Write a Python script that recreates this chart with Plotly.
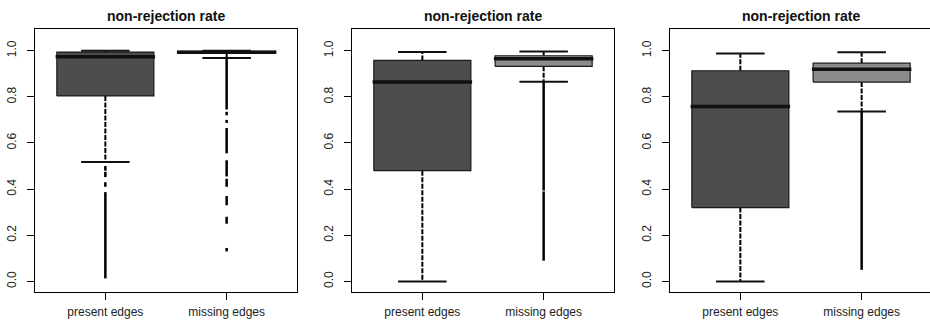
import plotly.graph_objects as go

# ---- data ----
categories = ["present edges", "missing edges"]
panel_titles = ["non-rejection rate", "non-rejection rate", "non-rejection rate"]

# per panel: [present, missing]
q1 = [[0.804, 0.988], [0.480, 0.932], [0.320, 0.864]]
median = [[0.974, 0.993], [0.864, 0.965], [0.758, 0.920]]
q3 = [[0.994, 0.997], [0.958, 0.978], [0.913, 0.946]]
lower_whisker = [[0.517, 0.968], [0.000, 0.865], [0.000, 0.736]]
upper_whisker = [[1.000, 1.000], [0.994, 0.997], [0.988, 0.993]]

# outliers: dense runs of points, given as (low, high) value spans
outlier_spans = [
    [
        [(0.480, 0.500), (0.452, 0.475), (0.410, 0.430), (0.013, 0.387)],
        [(0.745, 0.965), (0.720, 0.735), (0.687, 0.700), (0.555, 0.665),
         (0.455, 0.525), (0.410, 0.445), (0.330, 0.370), (0.250, 0.280),
         (0.130, 0.145)],
    ],
    [
        [],
        [(0.394, 0.865), (0.090, 0.390)],
    ],
    [
        [],
        [(0.050, 0.736)],
    ],
]

yticks = [0.0, 0.2, 0.4, 0.6, 0.8, 1.0]
ytick_labels = ["0.0", "0.2", "0.4", "0.6", "0.8", "1.0"]

# ---- styling ----
W, H = 930, 320
fills = ["#4d4d4d", "#8c8c8c"]
box_w = 0.8
panel_px = [(35, 297), (352, 614), (670, 930)]
full_w = 262.0
x_lo = 0.42
x_span = 2.16
y_range = [-0.046, 1.094]
y_dom = [1 - 292 / H, 1 - 29 / H]
font_family = "Liberation Sans, Arial, sans-serif"

fig = go.Figure()

for p in range(3):
    xa = "x" if p == 0 else f"x{p + 1}"
    ya = "y" if p == 0 else f"y{p + 1}"
    for g in range(2):
        c = g + 1
        h = box_w / 2
        # whiskers (dashed)
        fig.add_trace(go.Scatter(
            x=[c, c, None, c, c],
            y=[q3[p][g], upper_whisker[p][g], None, q1[p][g], lower_whisker[p][g]],
            mode="lines", line=dict(color="black", width=2, dash="5px,1.5px"),
            xaxis=xa, yaxis=ya, hoverinfo="skip", showlegend=False))
        # staples
        fig.add_trace(go.Scatter(
            x=[c - h / 2, c + h / 2, None, c - h / 2, c + h / 2],
            y=[upper_whisker[p][g]] * 2 + [None] + [lower_whisker[p][g]] * 2,
            mode="lines", line=dict(color="#111111", width=2),
            xaxis=xa, yaxis=ya, hoverinfo="skip", showlegend=False))
        # box
        fig.add_trace(go.Scatter(
            x=[c - h, c + h, c + h, c - h, c - h],
            y=[q1[p][g], q1[p][g], q3[p][g], q3[p][g], q1[p][g]],
            mode="lines", fill="toself", fillcolor=fills[g],
            line=dict(color="#1a1a1a", width=1.2),
            xaxis=xa, yaxis=ya, hoverinfo="skip", showlegend=False))
        # outliers
        ox, oy = [], []
        for lo, hi in outlier_spans[p][g]:
            ox += [c, c, None]
            oy += [lo, hi, None]
        if ox:
            fig.add_trace(go.Scatter(
                x=ox, y=oy, mode="lines", line=dict(color="black", width=2.5),
                xaxis=xa, yaxis=ya, hoverinfo="skip", showlegend=False))
        # median
        fig.add_trace(go.Scatter(
            x=[c - h - 0.01, c + h + 0.01], y=[median[p][g]] * 2,
            mode="lines", line=dict(color="#111111", width=3.5),
            xaxis=xa, yaxis=ya, hoverinfo="skip", showlegend=False))

layout = dict(
    width=W, height=H,
    margin=dict(l=0, r=0, t=0, b=0),
    paper_bgcolor="white", plot_bgcolor="white",
    font=dict(family=font_family, color="#222222"),
    showlegend=False,
)

annotations = []
for p in range(3):
    x0, x1 = panel_px[p]
    suffix = "" if p == 0 else str(p + 1)
    width_px = x1 - x0
    rng = [x_lo, x_lo + x_span * width_px / full_w]
    layout["xaxis" + suffix] = dict(
        domain=[x0 / W, x1 / W], range=rng, anchor="y" + suffix,
        tickmode="array", tickvals=[1, 2], ticktext=categories,
        ticks="outside", ticklen=7, tickwidth=1, tickcolor="black",
        ticklabelstandoff=2,
        showline=True, linecolor="black", linewidth=1, mirror=True,
        showgrid=False, zeroline=False, automargin=False,
        tickfont=dict(size=12, color="#222222"),
    )
    layout["yaxis" + suffix] = dict(
        domain=y_dom, range=y_range, anchor="x" + suffix,
        tickmode="array", tickvals=yticks, ticktext=ytick_labels,
        ticks="outside", ticklen=7, tickwidth=1, tickcolor="black",
        tickangle=-90, ticklabelstandoff=6,
        showline=True, linecolor="black", linewidth=1, mirror=(p < 2),
        showgrid=False, zeroline=False, automargin=False,
        tickfont=dict(size=12, color="#222222"),
    )
    annotations.append(dict(
        text="<b>" + panel_titles[p] + "</b>", xref="paper", yref="paper",
        x=(x0 + (x0 + full_w)) / 2 / W if p == 2 else (x0 + x1) / 2 / W,
        y=1 - 16 / H, xanchor="center", yanchor="middle", showarrow=False,
        font=dict(size=14, color="#111111", family=font_family),
    ))

layout["annotations"] = annotations
fig.update_layout(**layout)
fig.write_html("out.html", config={"displayModeBar": False, "staticPlot": True})

# remove the browser's default page margin so the figure sits at (0, 0)
with open("out.html", "r", encoding="utf-8") as f:
    html = f.read()
html = html.replace("<head>", "<head><style>html,body{margin:0;padding:0;overflow:hidden;}</style>", 1)
with open("out.html", "w", encoding="utf-8") as f:
    f.write(html)
